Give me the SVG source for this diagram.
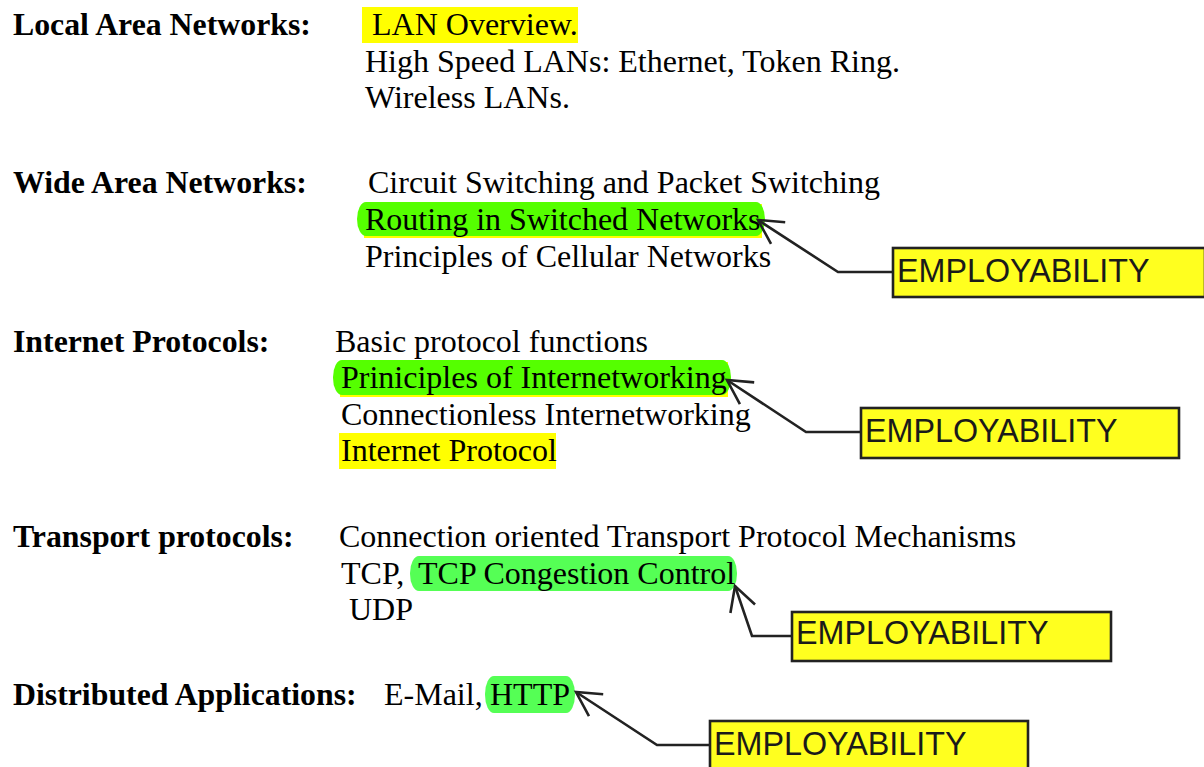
<svg xmlns="http://www.w3.org/2000/svg" width="1204" height="767" viewBox="0 0 1204 767">
  <style>
    text { font-family: "Liberation Serif", "Times New Roman", serif; font-size: 32px; fill: #000; }
    .head { font-weight: bold; font-size: 31.8px; }
    .hl-yellow { fill: #ffff00; }
    .hl-lime { fill: #55ff00; }
    .hl-green { fill: #55ff55; }
    .tag rect { fill: #ffff1f; stroke: #222; stroke-width: 2.6; }
    .tag text { font-family: "Liberation Sans", Arial, sans-serif; font-size: 32.3px; fill: #1a1a1a; }
    .conn path { fill: none; stroke: #222; stroke-width: 2.6; }
  </style>
  <defs>
    <marker id="openHead" markerUnits="userSpaceOnUse" markerWidth="40" markerHeight="40" refX="0" refY="0" orient="auto" overflow="visible" viewBox="-30 -20 40 40">
      <path d="M-24,-13 L0,0 L-24,13" fill="none" stroke="#222" stroke-width="2.6"/>
    </marker>
  </defs>

  <rect width="1204" height="767" fill="#fff"/>

  <!-- Local Area Networks -->
  <g id="lan">
    <text class="head" x="13" y="35">Local Area Networks:</text>
    <rect class="hl-yellow" x="362" y="7" width="216" height="36"/>
    <text x="372" y="35">LAN Overview.</text>
    <text x="365" y="72">High Speed LANs: Ethernet, Token Ring.</text>
    <text x="365" y="108">Wireless LANs.</text>
  </g>

  <!-- Wide Area Networks -->
  <g id="wan">
    <text class="head" x="13" y="193">Wide Area Networks:</text>
    <text x="368" y="193">Circuit Switching and Packet Switching</text>
    <rect class="hl-yellow" x="364" y="204" width="398" height="34"/>
    <rect class="hl-lime" x="357" y="202" width="408" height="34" rx="9" ry="17"/>
    <text x="365" y="230">Routing in Switched Networks</text>
    <text x="365" y="267">Principles of Cellular Networks</text>
  </g>

  <!-- Internet Protocols -->
  <g id="internet">
    <text class="head" x="13" y="352">Internet Protocols:</text>
    <text x="335" y="352">Basic protocol functions</text>
    <rect class="hl-yellow" x="340" y="362" width="388" height="35"/>
    <rect class="hl-lime" x="333" y="360" width="398" height="35" rx="9" ry="17"/>
    <text x="341" y="388">Priniciples of Internetworking</text>
    <text x="341" y="425">Connectionless Internetworking</text>
    <rect class="hl-yellow" x="339" y="433" width="217" height="36"/>
    <text x="341" y="461">Internet Protocol</text>
  </g>

  <!-- Transport protocols -->
  <g id="transport">
    <text class="head" x="13" y="547">Transport protocols:</text>
    <text x="339" y="547">Connection oriented Transport Protocol Mechanisms</text>
    <text x="341" y="584">TCP,</text>
    <rect class="hl-green" x="410" y="556" width="327" height="35" rx="9" ry="17"/>
    <text x="418" y="584">TCP Congestion Control</text>
    <text x="349" y="620">UDP</text>
  </g>

  <!-- Distributed Applications -->
  <g id="apps">
    <text class="head" x="13" y="705">Distributed Applications:</text>
    <text x="384" y="705">E-Mail,</text>
    <rect class="hl-green" x="485" y="676" width="90" height="37" rx="9" ry="18"/>
    <text x="490" y="705">HTTP</text>
  </g>

  <!-- EMPLOYABILITY tags -->
  <g id="tag-wan" class="tag">
    <rect x="893" y="248" width="312" height="49"/>
    <text x="897" y="282">EMPLOYABILITY</text>
  </g>
  <g id="tag-internet" class="tag">
    <rect x="861" y="408" width="318" height="50"/>
    <text x="865" y="442">EMPLOYABILITY</text>
  </g>
  <g id="tag-transport" class="tag">
    <rect x="792" y="612" width="319" height="49"/>
    <text x="796" y="644">EMPLOYABILITY</text>
  </g>
  <g id="tag-apps" class="tag">
    <rect x="710" y="721" width="318" height="50"/>
    <text x="714" y="755">EMPLOYABILITY</text>
  </g>

  <!-- Connectors from tags to highlighted topics -->
  <g id="connectors" class="conn">
    <path d="M893,272 L838,272 L758,220" marker-end="url(#openHead)"/>
    <path d="M861,432 L806,432 L727,380" marker-end="url(#openHead)"/>
    <path d="M792,636 L752,636 L735,586" marker-end="url(#openHead)"/>
    <path d="M710,745 L657,745 L576,692" marker-end="url(#openHead)"/>
  </g>
</svg>
